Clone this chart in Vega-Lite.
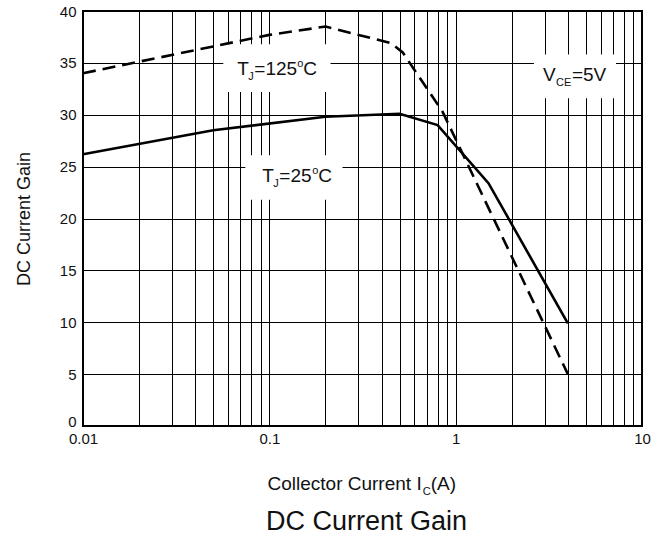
{
  "$schema": "https://vega.github.io/schema/vega-lite/v6.json",
  "width": 559,
  "height": 415,
  "autosize": "none",
  "padding": {"left": 83, "top": 11, "right": 22, "bottom": 114},
  "background": "white",
  "config": {
    "font": "Liberation Sans",
    "view": {"stroke": "black", "strokeWidth": 2},
    "text": {"font": "Liberation Sans", "color": "#111"}
  },
  "title": {
    "text": "DC Current Gain",
    "orient": "bottom",
    "anchor": "middle",
    "fontSize": 27,
    "fontWeight": "normal",
    "font": "Liberation Sans",
    "color": "#111",
    "offset": 12,
    "dx": 4
  },
  "datasets": {
    "curves": [
      {"Tj": "25", "Ic": 0.01, "hFE": 26.2},
      {"Tj": "25", "Ic": 0.05, "hFE": 28.5},
      {"Tj": "25", "Ic": 0.2, "hFE": 29.8},
      {"Tj": "25", "Ic": 0.5, "hFE": 30.1},
      {"Tj": "25", "Ic": 0.8, "hFE": 29.0},
      {"Tj": "25", "Ic": 1.5, "hFE": 23.4},
      {"Tj": "25", "Ic": 4, "hFE": 9.9},
      {"Tj": "125", "Ic": 0.01, "hFE": 34.0},
      {"Tj": "125", "Ic": 0.1, "hFE": 37.7},
      {"Tj": "125", "Ic": 0.2, "hFE": 38.5},
      {"Tj": "125", "Ic": 0.45, "hFE": 36.9},
      {"Tj": "125", "Ic": 0.52, "hFE": 36.0},
      {"Tj": "125", "Ic": 0.85, "hFE": 30.3},
      {"Tj": "125", "Ic": 4, "hFE": 5.0}
    ],
    "labels": [
      {"id": "t125", "Ic": 0.0673, "hFE": 33.8, "Ic_lo": 0.0566, "Ic_hi": 0.213, "hFE_lo": 32.2, "hFE_hi": 36.8},
      {"id": "t25", "Ic": 0.0917, "hFE": 23.5, "Ic_lo": 0.0743, "Ic_hi": 0.247, "hFE_lo": 21.8, "hFE_hi": 26.1},
      {"id": "vce", "Ic": 2.94, "hFE": 33.25, "Ic_lo": 2.63, "Ic_hi": 7.25, "hFE_lo": 31.6, "hFE_hi": 35.8},
      {"id": "xtitle", "Ic": 0.657, "hFE": -6.17}
    ]
  },
  "layer": [
    {
      "data": {"name": "labels"},
      "transform": [{"filter": "datum.id != 'xtitle'"}],
      "mark": {"type": "rect", "fill": "white", "stroke": null},
      "encoding": {
        "x": {
          "field": "Ic_lo", "type": "quantitative", "title": null,
          "scale": {"type": "log", "domain": [0.01, 10], "nice": false},
          "axis": {
            "values": [0.01,0.02,0.03,0.04,0.05,0.06,0.07,0.08,0.09,0.1,0.2,0.3,0.4,0.5,0.6,0.7,0.8,0.9,1,2,3,4,5,6,7,8,9,10],
            "format": "~g",
            "labelExpr": "(datum.value == 0.01 || datum.value == 0.1 || datum.value == 1 || datum.value == 10) ? datum.label : ''",
            "labelOverlap": false,
            "labelFlush": false,
            "labelFontSize": 15,
            "labelColor": "#111",
            "labelPadding": 5,
            "ticks": false,
            "domain": false,
            "grid": true,
            "gridColor": "#000",
            "gridWidth": 1,
            "gridOpacity": 1
          }
        },
        "x2": {"field": "Ic_hi"},
        "y": {
          "field": "hFE_lo", "type": "quantitative", "title": "DC Current Gain",
          "scale": {"domain": [0, 40], "nice": false, "zero": false},
          "axis": {
            "values": [0,5,10,15,20,25,30,35,40],
            "labelFlush": false,
            "labelFontSize": 15,
            "labelColor": "#111",
            "labelPadding": 7,
            "labelBaseline": {"condition": {"test": "datum.value == 0", "value": "alphabetic"}, "value": "middle"},
            "ticks": false,
            "domain": false,
            "grid": true,
            "gridColor": "#000",
            "gridWidth": 1,
            "gridOpacity": 1,
            "titleFontSize": 18,
            "titleFontWeight": "normal",
            "titleColor": "#111",
            "titlePadding": 26
          }
        },
        "y2": {"field": "hFE_hi"}
      }
    },
    {
      "data": {"name": "curves"},
      "transform": [{"filter": "datum.Tj == '25'"}],
      "mark": {"type": "line", "color": "#000", "strokeWidth": 2.6},
      "encoding": {
        "x": {"field": "Ic", "type": "quantitative", "title": null},
        "y": {"field": "hFE", "type": "quantitative", "title": "DC Current Gain"}
      }
    },
    {
      "data": {"name": "curves"},
      "transform": [{"filter": "datum.Tj == '125'"}],
      "mark": {"type": "line", "color": "#000", "strokeWidth": 2.6, "strokeDash": [13, 7]},
      "encoding": {
        "x": {"field": "Ic", "type": "quantitative", "title": null},
        "y": {"field": "hFE", "type": "quantitative", "title": "DC Current Gain"}
      }
    },
    {
      "data": {"name": "labels"},
      "transform": [{"filter": "datum.id == 't125'"}],
      "layer": [
        {"mark": {"type": "text", "text": "T", "align": "left", "baseline": "alphabetic", "fontSize": 19, "dx": 0}},
        {"mark": {"type": "text", "text": "J", "align": "left", "baseline": "alphabetic", "fontSize": 11, "dx": 11, "dy": 5}},
        {"mark": {"type": "text", "text": "=125", "align": "left", "baseline": "alphabetic", "fontSize": 19, "dx": 17}},
        {"mark": {"type": "text", "text": "o", "align": "left", "baseline": "alphabetic", "fontSize": 11, "dx": 60, "dy": -8}},
        {"mark": {"type": "text", "text": "C", "align": "left", "baseline": "alphabetic", "fontSize": 19, "dx": 66}}
      ],
      "encoding": {
        "x": {"field": "Ic", "type": "quantitative", "title": null},
        "y": {"field": "hFE", "type": "quantitative", "title": "DC Current Gain"}
      }
    },
    {
      "data": {"name": "labels"},
      "transform": [{"filter": "datum.id == 't25'"}],
      "layer": [
        {"mark": {"type": "text", "text": "T", "align": "left", "baseline": "alphabetic", "fontSize": 19, "dx": 0}},
        {"mark": {"type": "text", "text": "J", "align": "left", "baseline": "alphabetic", "fontSize": 11, "dx": 11, "dy": 5}},
        {"mark": {"type": "text", "text": "=25", "align": "left", "baseline": "alphabetic", "fontSize": 19, "dx": 17}},
        {"mark": {"type": "text", "text": "o", "align": "left", "baseline": "alphabetic", "fontSize": 11, "dx": 50, "dy": -8}},
        {"mark": {"type": "text", "text": "C", "align": "left", "baseline": "alphabetic", "fontSize": 19, "dx": 56}}
      ],
      "encoding": {
        "x": {"field": "Ic", "type": "quantitative", "title": null},
        "y": {"field": "hFE", "type": "quantitative", "title": "DC Current Gain"}
      }
    },
    {
      "data": {"name": "labels"},
      "transform": [{"filter": "datum.id == 'vce'"}],
      "layer": [
        {"mark": {"type": "text", "text": "V", "align": "left", "baseline": "alphabetic", "fontSize": 19, "dx": 0}},
        {"mark": {"type": "text", "text": "CE", "align": "left", "baseline": "alphabetic", "fontSize": 11, "dx": 13, "dy": 5}},
        {"mark": {"type": "text", "text": "=5V", "align": "left", "baseline": "alphabetic", "fontSize": 19, "dx": 29}}
      ],
      "encoding": {
        "x": {"field": "Ic", "type": "quantitative", "title": null},
        "y": {"field": "hFE", "type": "quantitative", "title": "DC Current Gain"}
      }
    },
    {
      "data": {"name": "labels"},
      "transform": [{"filter": "datum.id == 'xtitle'"}],
      "layer": [
        {"mark": {"type": "text", "text": "Collector Current I", "align": "right", "baseline": "alphabetic", "fontSize": 19, "dx": 0}},
        {"mark": {"type": "text", "text": "C", "align": "left", "baseline": "alphabetic", "fontSize": 11, "dx": 1, "dy": 5}},
        {"mark": {"type": "text", "text": "(A)", "align": "left", "baseline": "alphabetic", "fontSize": 19, "dx": 9}}
      ],
      "encoding": {
        "x": {"field": "Ic", "type": "quantitative", "title": null},
        "y": {"field": "hFE", "type": "quantitative", "title": "DC Current Gain"}
      }
    }
  ]
}
